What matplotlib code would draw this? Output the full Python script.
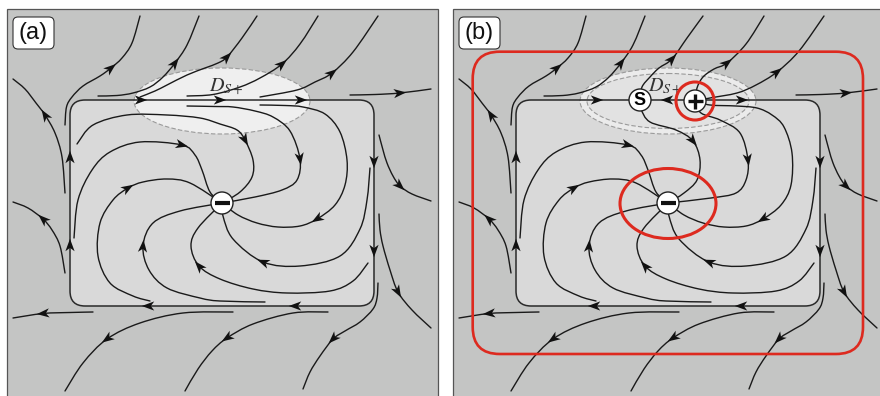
import numpy as np
import matplotlib.pyplot as plt
from matplotlib.path import Path
from matplotlib.patches import PathPatch, FancyBboxPatch, Ellipse, Circle, Polygon, Rectangle

plt.rcParams['mathtext.fontset'] = 'stix'

W, H = 880, 396

# colours
bg_grey = '#c4c5c4'
cell_grey = '#d9d9d9'
line_col = '#1a1a1a'
red = '#dd2a1f'

# panel b is panel a shifted to the right (pixel units)
panel_dx = [0, 446]
panel_labels = ['(a)', '(b)']

# invariant rounded rectangle (limit cycle), panel-a pixels: x0, y0, x1, y1
cycle_box = (70, 100, 374, 306)
# arrows on the cycle: x, y, heading in degrees (y points down)
cycle_arrows_a = [(141, 100, 0), (220, 100, 0), (301, 100, 0),
                  (374, 162, 90), (374, 251, 90),
                  (295, 306, 180), (148, 306, 180),
                  (70, 245, 270), (70, 157, 270)]
cycle_arrows_b = [(151, 100, 0), (221, 100, 180), (296, 100, 0),
                  (374, 162, 90), (374, 251, 90),
                  (295, 306, 180), (148, 306, 180),
                  (70, 245, 270), (70, 157, 270)]

# equilibria (panel-a pixels)
sink_xy = (222, 203)
saddle_xy = (194, 100)
source_xy = (249, 101)

# region D_S+ : centre, half widths
dsp_centre = (222, 101)
dsp_outer = (88, 33)
dsp_inner = (81, 27.5)

# streamlines: waypoints in flow order, index of the arrowhead
left_up = [(65, 193), (62, 157), (55, 133), (45, 115), (36, 103), (25, 89), (13, 79)]
top_1 = [(65, 125), (66.5, 107), (72, 97), (83, 86), (100, 76), (111, 68),
         (122, 58), (132, 43), (140, 16)]
top_2 = [(98, 96), (117, 95.5), (133, 93), (150, 87), (163, 77), (175, 63),
         (187, 45), (199, 16)]
right_out = [(350, 95), (375, 94.5), (400, 93), (431, 89)]
right_1 = [(379, 135), (383, 150), (387, 163), (393, 176), (400, 186), (412, 194), (431, 201)]
right_2 = [(379, 214), (380, 230), (383, 246), (390, 270), (398, 292), (412, 310), (431, 328)]
bottom_3 = [(378, 283), (377, 298), (373, 309), (360, 322), (345, 331), (333, 339),
            (320, 356), (310, 372), (303, 389)]
bottom_2 = [(328, 312), (293, 313), (253, 324), (227, 338), (212, 351), (198, 369), (185, 391)]
bottom_1 = [(233, 312), (183, 313), (140, 323), (107, 339), (83, 363), (65, 391)]
left_out = [(93, 312), (70, 312.5), (43, 313.5), (13, 318)]
left_low = [(65, 273), (60, 246), (52, 230), (43, 219), (28, 208), (13, 202)]

spiral_1 = [(150, 301), (133, 296), (110, 283), (98, 256), (100, 223), (113, 200),
            (128, 188), (143, 182), (167, 179), (190, 183), (222, 203)]
spiral_2 = [(265, 302), (220, 301), (200, 298), (167, 288), (149, 270), (143, 246),
            (153, 223), (180, 211), (222, 203)]
spiral_3 = [(368, 263), (353, 281), (330, 291), (287, 293), (253, 289), (220, 279),
            (199, 266), (191, 246), (198, 228), (222, 203)]
spiral_4 = [(370, 168), (367, 200), (360, 229), (340, 256), (300, 266), (263, 262),
            (233, 239), (223, 216), (222, 203)]
spiral_5 = [(74, 238), (78, 200), (92, 170), (110, 152), (140, 142), (182, 145),
            (195, 155), (202, 170), (210, 192), (222, 203)]

shared_lines = [(left_up, 3), (top_1, 5), (top_2, 5), (right_out, 2), (right_1, 4),
                (right_2, 4), (bottom_3, 5), (bottom_2, 3), (bottom_1, 3),
                (left_out, 2), (left_low, 3), (spiral_1, 6), (spiral_2, 5),
                (spiral_3, 6), (spiral_4, 5), (spiral_5, 5)]

# panel a only
top_3a = [(140, 97), (155, 91), (167, 85), (187, 75), (205, 68), (218, 63), (227, 57),
          (242, 38), (257, 16)]
top_4a = [(187, 96), (213, 94.5), (240, 87), (260, 78), (282, 64), (300, 44), (318, 16)]
top_5a = [(260, 97), (297, 90), (315, 82), (332, 73), (353, 52), (378, 16)]
inner_1a = [(187, 106), (215, 106.5), (233, 107), (255, 111), (273, 117), (290, 131),
            (300, 159), (297, 180), (282, 190), (255, 197), (222, 203)]
inner_2a = [(260, 105), (285, 105.5), (303, 107), (325, 114), (340, 132), (347, 160),
            (345, 185), (335, 205), (317, 219), (300, 226), (278, 227), (257, 223),
            (238, 215), (222, 203)]
inner_3a = [(77, 144), (93, 125), (127, 115), (167, 115), (200, 118), (220, 124),
            (237, 130), (245, 140), (253, 160), (252, 177), (240, 192), (222, 203)]
lines_a = [(top_3a, 6), (top_4a, 4), (top_5a, 3), (inner_1a, 6), (inner_2a, 8), (inner_3a, 7)]

# panel b only (manifolds of the saddle and the source)
saddle_up = [(194, 100), (196, 87), (204, 77), (213, 68), (226, 59), (241, 38), (257, 16)]
saddle_down = [(194, 100), (195, 109), (204, 122), (230, 130), (247, 141), (254, 160),
               (251, 180), (238, 193), (222, 203)]
source_up = [(249, 101), (251, 88), (257, 77), (268, 69), (281, 63), (300, 44), (318, 16)]
source_right = [(249, 101), (264, 98), (291, 93), (310, 85), (331, 72), (353, 51), (378, 16)]
source_down = [(249, 101), (255, 113), (274, 120), (294, 133), (302, 160), (300, 180),
               (290, 193), (265, 198), (222, 203)]
source_low = [(249, 101), (264, 105), (290, 106), (311, 108), (326, 115), (338, 127),
              (346, 153), (345, 185), (335, 205), (317, 219), (300, 226), (278, 227),
              (257, 223), (238, 215), (222, 203)]
lines_b = [(saddle_up, 4), (saddle_down, 4), (source_up, 4), (source_right, 4),
           (source_down, 4), (source_low, 9)]

# red sets in panel b (absolute pixels)
red_box = (472.7, 51.7, 863, 354)
red_circle = (695, 101, 19)
red_ellipse = (668, 203.5, 96, 70)


fig = plt.figure(figsize=(W / 100, H / 100), dpi=100, facecolor='white')
ax = fig.add_axes([0, 0, 1, 1])
ax.set_xlim(0, W)
ax.set_ylim(H, 0)
ax.axis('off')


def smooth_path(pts, dx):
    p = np.asarray(pts, float) + [dx, 0]
    ext = np.vstack([p[0], p, p[-1]])
    verts = [p[0]]
    codes = [Path.MOVETO]
    for i in range(len(p) - 1):
        p0, p1, p2, p3 = ext[i], ext[i + 1], ext[i + 2], ext[i + 3]
        verts += [p1 + (p2 - p0) / 6, p2 - (p3 - p1) / 6, p2]
        codes += [Path.CURVE4] * 3
    return Path(verts, codes)


def arrowhead(x, y, ux, uy, length=12.5, half=4.6, notch=3.4):
    n = np.hypot(ux, uy)
    ux, uy = ux / n, uy / n
    nx, ny = -uy, ux
    tip = (x + ux * length / 2, y + uy * length / 2)
    bx, by = x - ux * length / 2, y - uy * length / 2
    pts = [tip, (bx + nx * half, by + ny * half), (bx + ux * notch, by + uy * notch),
           (bx - nx * half, by - ny * half)]
    ax.add_patch(Polygon(pts, closed=True, fc='#111111', ec='none', zorder=6))


def streamline(pts, k, dx):
    ax.add_patch(PathPatch(smooth_path(pts, dx), fc='none', ec=line_col, lw=1.0,
                           capstyle='round', zorder=4))
    p = np.asarray(pts, float)
    t = p[min(k + 1, len(p) - 1)] - p[max(k - 1, 0)]
    arrowhead(p[k, 0] + dx, p[k, 1], t[0], t[1])


def node(x, y):
    ax.add_patch(Circle((x, y), 11, fc='white', ec='#222222', lw=1.0, zorder=8))


for i, dx in enumerate(panel_dx):
    ax.add_patch(Rectangle((6.5 + dx, 8.5), 431, 400, fc=bg_grey, ec='#555555', lw=0.9, zorder=0))
    x0, y0, x1, y1 = cycle_box
    ax.add_patch(FancyBboxPatch((x0 + dx, y0), x1 - x0, y1 - y0,
                                boxstyle='round,pad=0,rounding_size=15',
                                fc=cell_grey, ec='none', zorder=1))
    cx, cy = dsp_centre
    if i == 0:
        ax.add_patch(Ellipse((cx + dx, cy), 2 * dsp_outer[0], 2 * dsp_outer[1], fc='#efefef',
                             ec='#9a9a9a', lw=0.8, ls=(0, (4, 2)), zorder=2))
    else:
        ax.add_patch(Ellipse((cx + dx, cy), 2 * dsp_outer[0], 2 * dsp_outer[1], fc='#ebebeb',
                             ec='#9a9a9a', lw=0.8, ls=(0, (4, 2)), zorder=2))
        ax.add_patch(Ellipse((cx + dx, cy), 2 * dsp_inner[0], 2 * dsp_inner[1], fc='#e2e2e2',
                             ec='#9a9a9a', lw=0.8, ls=(0, (4, 2)), zorder=2))
    # the limit cycle itself
    ax.add_patch(FancyBboxPatch((x0 + dx, y0), x1 - x0, y1 - y0,
                                boxstyle='round,pad=0,rounding_size=15',
                                fc='none', ec='#2a2a2a', lw=1.1, zorder=4))
    for ax_x, ax_y, ang in (cycle_arrows_a if i == 0 else cycle_arrows_b):
        a = np.deg2rad(ang)
        arrowhead(ax_x + dx, ax_y, np.cos(a), np.sin(a))

    for pts, k in shared_lines + (lines_a if i == 0 else lines_b):
        streamline(pts, k, dx)

    # equilibria
    sx, sy = sink_xy
    node(sx + dx, sy)
    ax.plot([sx + dx - 7.5, sx + dx + 7.5], [sy, sy], color='#111111', lw=3.0,
            solid_capstyle='butt', zorder=9)
    if i == 1:
        node(saddle_xy[0] + dx, saddle_xy[1])
        ax.text(saddle_xy[0] + dx, saddle_xy[1] + 0.5, 'S', ha='center', va='center',
                fontsize=13, fontweight='bold', family='Liberation Sans', zorder=9)
        px, py = source_xy
        node(px + dx, py)
        ax.plot([px + dx - 7.5, px + dx + 7.5], [py, py], color='#111111', lw=2.4,
                solid_capstyle='butt', zorder=9)
        ax.plot([px + dx, px + dx], [py - 7.5, py + 7.5], color='#111111', lw=2.4,
                solid_capstyle='butt', zorder=9)

    # D_S+ label
    lx = 209 if i == 0 else 202
    ax.text(lx + dx, 92, r'$D_{S+}$', fontsize=14.5, color='#333333',
            ha='left', va='baseline', zorder=7)

    # panel tag
    ax.add_patch(FancyBboxPatch((13 + dx, 17), 41, 32, boxstyle='round,pad=0,rounding_size=5',
                                fc='white', ec='#333333', lw=0.8, zorder=9))
    ax.text(33.5 + dx, 33.5, panel_labels[i], ha='center', va='center', fontsize=17,
            family='Liberation Sans', color='#111111', zorder=10)

# red sets in panel b
bx0, by0, bx1, by1 = red_box
ax.add_patch(FancyBboxPatch((bx0, by0), bx1 - bx0, by1 - by0,
                            boxstyle='round,pad=0,rounding_size=27',
                            fc='none', ec=red, lw=1.9, zorder=11))
ax.add_patch(Circle(red_circle[:2], red_circle[2], fc='none', ec=red, lw=2.2, zorder=11))
ax.add_patch(Ellipse(red_ellipse[:2], red_ellipse[2], red_ellipse[3], fc='none',
                     ec=red, lw=2.2, zorder=11))

fig.savefig('out.png', dpi=100, facecolor='white')
